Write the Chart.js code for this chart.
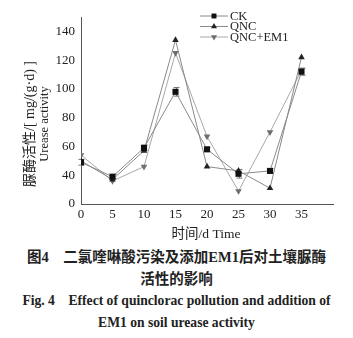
<!DOCTYPE html>
<html>
<head>
<meta charset="utf-8">
<script src="https://cdn.jsdelivr.net/npm/chart.js@4.4.1/dist/chart.umd.min.js"></script>
<style>
  body { margin: 0; background: #fff; width: 353px; height: 338px; overflow: hidden; }
  #wrap { position: relative; width: 353px; height: 243px; }
  .cap { text-align: center; color: #222; font-weight: bold; white-space: nowrap; }
  .zh { font-family: 'Liberation Serif', 'Noto Sans CJK SC', serif; font-size: 14.5px; line-height: 22px; }
  .en { font-family: 'Liberation Serif', serif; font-size: 13.6px; line-height: 22px; }
</style>
</head>
<body>
<div id="wrap"><canvas id="chart" width="353" height="243"></canvas></div>
<div class="cap zh" style="margin-top:3px">图4&nbsp;&nbsp;&nbsp;&nbsp;二氯喹啉酸污染及添加EM1后对土壤脲酶</div>
<div class="cap zh">活性的影响</div>
<div class="cap en" style="margin-top:0px">Fig. 4&nbsp;&nbsp;&nbsp;&nbsp;Effect of quinclorac pollution and addition of</div>
<div class="cap en">EM1 on soil urease activity</div>
<script>
// days sampled
const days = [0, 5, 10, 15, 20, 25, 30, 35];
// urease activity, mg/(g·d)
const ck     = [49, 39, 59, 98, 58, 41, 43, 112];
const qnc    = [50, 37, 57, 134, 46, 43, 31, 122];
const qncEm1 = [54, 36, 46, 125, 67, 29, 70, 113];
// standard errors (only CK bars are visible above the markers)
const ckErr  = [2, 1.5, 2, 3, 1.5, 3, 1.5, 2.5];
const seriesNames = ['CK', 'QNC', 'QNC+EM1'];
const yTicks = [20, 40, 60, 80, 100, 120, 140];
const xTicks = [0, 5, 10, 15, 20, 25, 30, 35];

const serif = "'Liberation Serif', 'Noto Sans CJK SC', serif";

function pts(vals) {
    return days.map((d, i) => ({x: d, y: vals[i]}));
}

// error bars for CK, drawn through the scales
const errPlugin = {
    id: 'errBars',
    beforeDatasetsDraw: function (chart) {
        var ctx = chart.ctx;
        var xs = chart.scales.x, ys = chart.scales.y;
        ctx.save();
        ctx.strokeStyle = '#777';
        ctx.lineWidth = 1;
        days.forEach(function (d, i) {
            var x = Math.round(xs.getPixelForValue(d)) + 0.5;
            var y1 = ys.getPixelForValue(ck[i] + ckErr[i]);
            var y2 = ys.getPixelForValue(ck[i] - ckErr[i]);
            ctx.beginPath();
            ctx.moveTo(x, y1); ctx.lineTo(x, y2);
            ctx.moveTo(x - 3, y1); ctx.lineTo(x + 3, y1);
            ctx.moveTo(x - 3, y2); ctx.lineTo(x + 3, y2);
            ctx.stroke();
        });
        ctx.restore();
    }
};

// draws the little legend at top right, line + marker + name
const legendPlugin = {
    id: 'lineLegend',
    afterDraw: function (chart) {
        var ctx = chart.ctx;
        ctx.save();
        chart.data.datasets.forEach(function (ds, i) {
            var y = 16 + i * 10.5;
            ctx.strokeStyle = ds.borderColor;
            ctx.lineWidth = 1;
            ctx.beginPath();
            ctx.moveTo(200, y);
            ctx.lineTo(228, y);
            ctx.stroke();
            ctx.fillStyle = ds.pointBackgroundColor;
            ctx.strokeStyle = ds.pointBackgroundColor;
            Chart.helpers.drawPoint(ctx, {
                pointStyle: ds.pointStyle,
                rotation: ds.pointRotation || 0,
                radius: 3.5,
                borderWidth: 0
            }, 214, y);
            ctx.fillStyle = '#222';
            ctx.font = '12.5px ' + serif;
            ctx.textBaseline = 'middle';
            ctx.textAlign = 'left';
            ctx.fillText(ds.label, 230, y + 0.5);
        });
        ctx.restore();
    }
};

// axis titles are placed by hand
const titlePlugin = {
    id: 'axisTitles',
    afterDraw: function (chart) {
        var ctx = chart.ctx;
        ctx.save();
        ctx.fillStyle = '#222';
        ctx.textAlign = 'center';
        ctx.textBaseline = 'middle';
        ctx.font = '13.5px ' + serif;
        ctx.fillText('时间/d Time', 206, 234);
        ctx.translate(0, 124);
        ctx.rotate(-Math.PI / 2);
        ctx.font = '14px ' + serif;
        ctx.fillText('脲酶活性/[ mg/(g·d) ]', 0, 30);
        ctx.font = '12.5px ' + serif;
        ctx.fillText('Urease activity', 0, 45);
        ctx.restore();
    }
};

const lineCol = ['#8a8a8a', '#8a8a8a', '#a8a8a8'];
const markCol = ['#111', '#222', '#6e6e6e'];
const styles = ['rect', 'triangle', 'triangle'];
const rots = [0, 0, 180];

const datasets = [ck, qnc, qncEm1].map(function (vals, i) {
    return {
        label: seriesNames[i],
        data: pts(vals),
        borderColor: lineCol[i],
        borderWidth: 1,
        pointStyle: styles[i],
        pointRotation: rots[i],
        pointRadius: i == 0 ? 4.3 : 3.8,
        pointBackgroundColor: markCol[i],
        pointBorderColor: markCol[i],
        pointBorderWidth: 0,
        tension: 0
    };
});

new Chart(document.getElementById('chart'), {
    type: 'line',
    data: { datasets: datasets },
    options: {
        responsive: false,
        animation: false,
        events: [],
        layout: { padding: { left: 0, right: 20, top: 17, bottom: 0 } },
        plugins: { legend: { display: false }, tooltip: { enabled: false } },
        scales: {
            x: {
                type: 'linear',
                min: 0,
                max: 40,
                grid: { display: false, drawTicks: false },
                border: { display: true, color: '#555', width: 1 },
                afterFit: function (a) { a.height = 39; },
                afterBuildTicks: function (a) { a.ticks = xTicks.map(v => ({value: v})); },
                ticks: {
                    padding: 3,
                    color: '#222',
                    font: { family: serif, size: 13 },
                    maxRotation: 0
                }
            },
            y: {
                min: 20,
                max: 150,
                grid: { display: false, drawTicks: false },
                border: { display: true, color: '#555', width: 1 },
                afterFit: function (a) { a.width = 81; },
                afterBuildTicks: function (a) { a.ticks = yTicks.map(v => ({value: v})); },
                ticks: {
                    padding: 6,
                    color: '#222',
                    font: { family: serif, size: 13 },
                    // broken axis: bottom reads 0
                    callback: function (v) { return v === 20 ? '0' : v; }
                }
            }
        }
    },
    plugins: [errPlugin, legendPlugin, titlePlugin]
});
</script>
</body>
</html>
